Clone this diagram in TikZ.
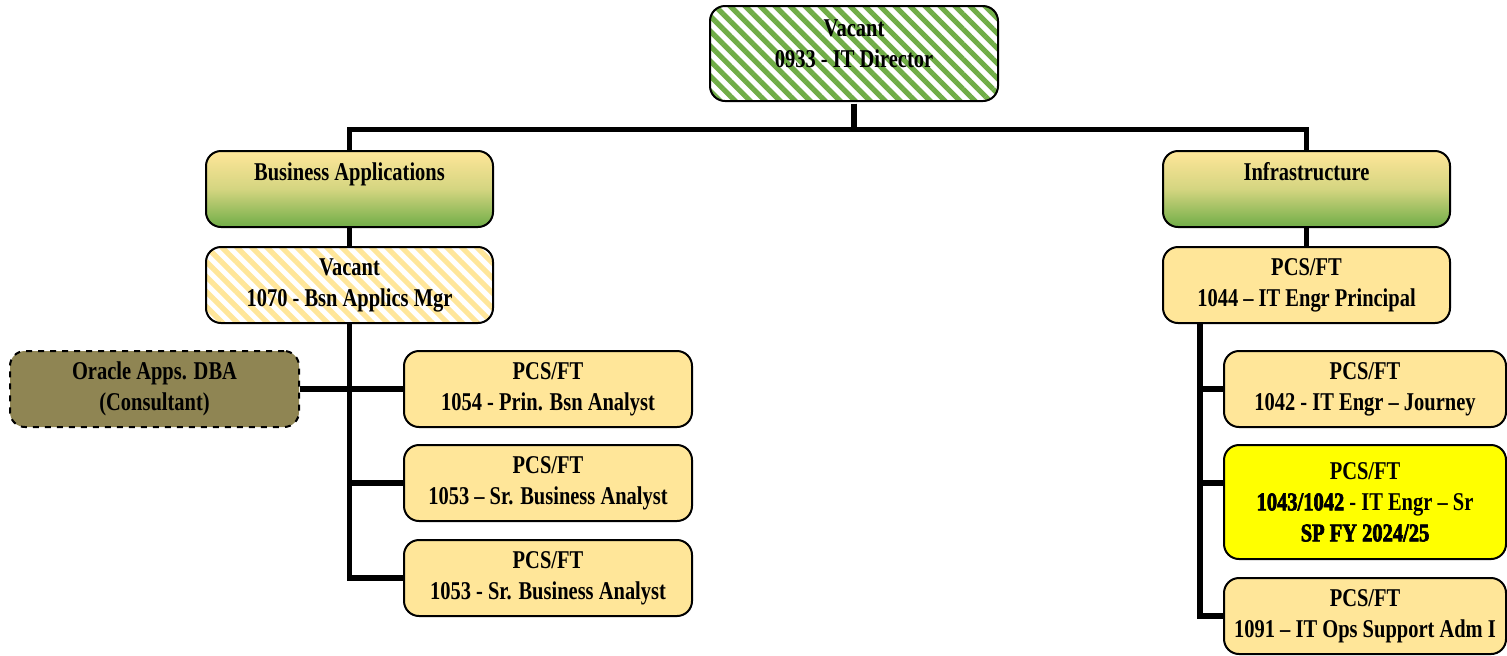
\documentclass[tikz,border=0pt]{standalone}
\usepackage{fontspec}
\setmainfont{Liberation Serif}[FakeStretch=0.8]
\newfontfamily\heavyfont{Liberation Serif}[FakeStretch=0.8,BoldFeatures={FakeBold=2.5}]
\usetikzlibrary{patterns.meta}
\definecolor{gold}{HTML}{FFE699}
\definecolor{leaf}{HTML}{70AD47}
\definecolor{olive}{HTML}{8F8553}
\definecolor{hilite}{HTML}{FFFF00}
\tikzset{
  box/.style={draw=black, line width=1pt, rounded corners=7.5pt, minimum width=143.5pt,
    minimum height=38pt, align=center, inner sep=2pt,
    font=\fontsize{12.8}{15.5}\selectfont\bfseries},
  post/.style={box, fill=gold},
  vacant/.style={box, preaction={fill=white},
    pattern={Lines[angle=-45,distance=5.3pt,line width=2.6pt]}, pattern color=#1},
  dept/.style={box, top color=gold, bottom color=leaf, middle color=gold!70!leaf,
    text height=9pt, text depth=17.5pt},
  link/.style={line width=2.7pt},
}
\begin{document}
\begin{tikzpicture}[x=0.5pt,y=-0.5pt]
\useasboundingbox (0,0) rectangle (1507,655);
% 主管
\node[vacant=leaf, minimum width=144pt, minimum height=47.5pt, text height=22pt, text depth=8pt] (dir) at (854,53.5) {Vacant\\0933 - IT Director};
% 业务应用
\node[dept] (bsn) at (349.5,189) {Business Applications};
\node[vacant=gold] (bmgr) at (349.5,285) {Vacant\\1070 - Bsn Applics Mgr};
\node[box, fill=olive, dashed, minimum width=144.5pt] (dba) at (154.5,389) {Oracle Apps. DBA\\(Consultant)};
\node[post, minimum width=144pt] (p1054) at (548,389) {PCS/FT\\1054 - Prin. Bsn Analyst};
\node[post, minimum width=144pt] (p1053a) at (548,483) {PCS/FT\\1053 -- Sr. Business Analyst};
\node[post, minimum width=144pt] (p1053b) at (548,578) {PCS/FT\\1053 - Sr. Business Analyst};
% 基础设施
\node[dept] (infra) at (1306.5,189) {Infrastructure};
\node[post] (p1044) at (1306.5,285) {PCS/FT\\1044 -- IT Engr Principal};
\node[post, minimum width=141pt] (p1042) at (1365,389) {PCS/FT\\1042 - IT Engr -- Journey};
\node[post, fill=hilite, minimum width=141pt, minimum height=57pt] (p1043) at (1365,502) {PCS/FT\\{\heavyfont\bfseries 1043/1042} - IT Engr -- Sr\\{\heavyfont\bfseries SP FY 2024/25}};
\node[post, minimum width=141pt] (p1091) at (1365,616) {PCS/FT\\1091 -- IT Ops Support Adm I};
% 连线
\draw[link] (dir.south) -- ++(0,26) -| (bsn.north);
\draw[link] (dir.south) -- ++(0,26) -| (infra.north);
\draw[link] (bsn.south) -- (bmgr.north);
\draw[link] (bmgr.south) |- (p1053b.west);
\draw[link] (dba.east) -- (p1054.west);
\draw[link] (bmgr.south |- p1053a.west) -- (p1053a.west);
\draw[link] (infra.south) -- (p1044.north);
\coordinate (rt) at (1200,323);
\coordinate (ylin) at ([yshift=9.5pt]p1043.west);
\draw[link] (rt) |- (p1091.west);
\draw[link] (rt |- p1042.west) -- (p1042.west);
\draw[link] (rt |- ylin) -- (ylin);
\end{tikzpicture}
\end{document}
